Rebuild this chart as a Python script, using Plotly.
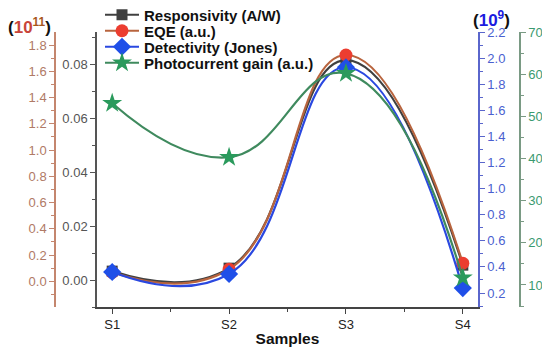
import plotly.graph_objects as go

categories = ["S1", "S2", "S3", "S4"]
responsivity = [0.0033, 0.0044, 0.0815, 0.0055]      # A/W
eqe = [0.069, 0.092, 1.724, 0.138]                   # x10^11 a.u.
detectivity = [0.361, 0.346, 1.93, 0.238]            # x10^9 Jones
gain = [53.1, 40.3, 60.2, 11.7]                      # a.u.
series_names = ["Responsivity (A/W)", "EQE (a.u.)", "Detectivity (Jones)", "Photocurrent gain (a.u.)"]

x = list(range(len(categories)))
FONT = "Arial, Liberation Sans, sans-serif"

# The page body has an 8px margin, so the figure is 8px smaller than the window
OFF = 8
W, H = 550 - OFF, 354 - OFF
PLOT_TOP, PLOT_BOT, PLOT_L, PLOT_R = 32, 307, 97, 478   # page pixels


def px(xp):   # page x -> paper fraction
    return (xp - OFF) / W


def py(yp):   # page y -> paper fraction
    return (PLOT_BOT - yp) / (PLOT_BOT - PLOT_TOP)


fig = go.Figure()
common = dict(mode="lines+markers", line_shape="spline")
specs = [
    (responsivity, "y", "legend", dict(color="#404040"), dict(symbol="square", size=11, color="#404040")),
    (eqe, "y2", "legend2", dict(color="#b8643e"), dict(symbol="circle", size=13, color="#ec3d30")),
    (detectivity, "y3", "legend3", dict(color="#2a48e0"), dict(symbol="diamond", size=14, color="#1f4fe8")),
    (gain, "y4", "legend4", dict(color="#3f8a5e"), dict(symbol="star", size=15, color="#2a9a5c")),
]
for (vals, ya, lg, ln, mk), nm in zip(specs, series_names):
    fig.add_trace(go.Scatter(x=x, y=vals, name="<b>" + nm + "</b>", yaxis=ya, legend=lg,
                             line=dict(width=2.2, smoothing=1.3, **ln), marker=mk, **common))


def yax(color, lab, rng, dtick, mdtick, fmt, **kw):
    d = dict(range=rng, dtick=dtick, tick0=0, tickformat=fmt, showgrid=False, zeroline=False,
             showline=True, linecolor=color, linewidth=1.5, ticks="outside", ticklen=5,
             tickcolor=color, tickfont=dict(family=FONT, size=13, color=lab),
             minor=dict(dtick=mdtick, ticklen=3, tickcolor=color, ticks="outside"))
    d.update(kw)
    return d


def leg(yp):
    return dict(x=px(100), y=py(yp), xanchor="left", yanchor="middle",
                bgcolor="rgba(0,0,0,0)", font=dict(family=FONT, size=15, color="#111"),
                itemwidth=34, borderwidth=0)


fig.update_layout(
    width=W, height=H,
    margin=dict(l=0, r=0, t=PLOT_TOP - OFF, b=354 - PLOT_BOT, autoexpand=False),
    paper_bgcolor="white", plot_bgcolor="white",
    showlegend=True,
    legend=leg(15), legend2=leg(31), legend3=leg(47), legend4=leg(63),
    xaxis=dict(domain=[px(PLOT_L), px(PLOT_R)], range=[-0.13, 3.13], tickmode="array",
               tickvals=x, ticktext=categories, showgrid=False, zeroline=False,
               showline=True, linecolor="#444", linewidth=1.5, ticks="outside", ticklen=5,
               tickcolor="#444", tickfont=dict(family=FONT, size=13, color="#222"),
               minor=dict(tickmode="array", tickvals=[0.5, 1.5, 2.5], ticklen=3,
                          tickcolor="#444", ticks="outside"),
               title=dict(text="<b>Samples</b>", font=dict(family=FONT, size=15.5, color="#111"),
                          standoff=2)),
    yaxis=yax("#555", "#555", [-0.01, 0.0919], 0.02, 0.01, ".2f", side="left", anchor="x"),
    yaxis2=yax("#c4866e", "#b07a66", [-0.195, 1.899], 0.2, 0.1, ".1f", side="left",
               overlaying="y", anchor="free", position=px(55)),
    yaxis3=yax("#5a66cc", "#4a5fd0", [0.093, 2.2], 0.2, 0.1, ".1f", side="right",
               overlaying="y", anchor="x"),
    yaxis4=yax("#7a9a84", "#3a9a70", [4.78, 70], 10, 5, "d", side="right",
               overlaying="y", anchor="free", position=px(520)),
)

fig.add_annotation(xref="paper", yref="paper", x=px(53), y=py(26), xanchor="right",
                   yanchor="middle", showarrow=False,
                   text="<b>(<span style='color:#c8453a'>10</span><sup><span style='color:#a8561a'>11</span></sup>)</b>",
                   font=dict(family=FONT, size=17, color="#111"))
fig.add_annotation(xref="paper", yref="paper", x=px(491), y=py(19), xanchor="center",
                   yanchor="middle", showarrow=False,
                   text="<b>(<span style='color:#1a1ae0'>10<sup>9</sup></span>)</b>",
                   font=dict(family=FONT, size=17, color="#111"))

fig.write_html("out.html")
